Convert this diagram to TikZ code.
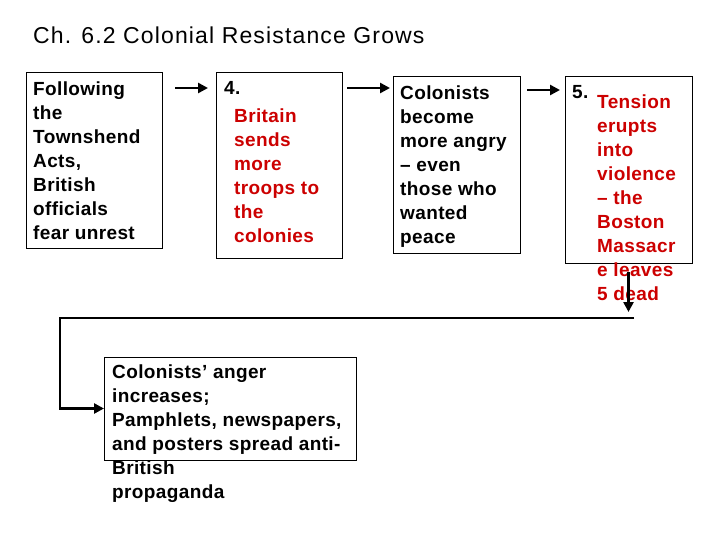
\documentclass[tikz,border=0pt]{standalone}
\usepackage{fontspec}
\setmainfont{Liberation Sans}
\newfontfamily\bodyfont[LetterSpace=2]{Liberation Sans}
\newfontfamily\titlefont[LetterSpace=5]{Liberation Sans}
\usetikzlibrary{arrows.meta,calc}
\definecolor{txtred}{RGB}{204,0,0}
\newcommand{\fl}{\rule{0pt}{15pt}}
\begin{document}
\begin{tikzpicture}[x=1pt,y=-1pt,
  box/.style={draw=black,line width=0.9pt,inner sep=0pt,outer sep=0pt},
  txt/.style={anchor=north west,inner sep=0pt,align=left,
    font=\bodyfont\bfseries\fontsize{19}{24}\selectfont},
  redtxt/.style={txt,text=txtred},
  conn/.style={line width=2.8pt,-{Triangle[length=10pt,width=10pt]}}]
\useasboundingbox (0,0) rectangle (720,540);
\node[anchor=base west,inner sep=0pt,font=\titlefont\fontsize{23}{27}\selectfont] (title) at (33,44) {Ch. 6.2 Colonial Resistance Grows};
% boxes
\node[box,minimum width=136,minimum height=176] (b1) at (94,160) {};
\node[box,minimum width=126,minimum height=186] (b2) at (279,165) {};
\node[box,minimum width=127,minimum height=177] (b3) at (456.5,164.5) {};
\node[box,minimum width=127,minimum height=187] (b4) at (628.5,169.5) {};
\node[box,minimum width=252,minimum height=103] (b5) at (230,408.5) {};
% texts (position = first baseline minus 15)
\node[txt] (t1) at (33,80) {\fl Following\\the\\Townshend\\Acts,\\British\\officials\\fear unrest};
\node[txt] (n4) at (224,79) {\fl 4.};
\node[redtxt] (t2) at (234,107) {\fl Britain\\sends\\more\\troops to\\the\\colonies};
\node[txt] (t3) at (400,84) {\fl Colonists\\become\\more angry\\– even\\those who\\wanted\\peace};
\node[txt] (n5) at (572,83) {\fl 5.};
\node[redtxt] (t4) at (597,93) {\fl Tension\\erupts\\into\\violence\\– the\\Boston\\Massacr\\e leaves\\5 dead};
\node[txt] (t5) at (112,363) {\fl Colonists’ anger\\increases;\\Pamphlets, newspapers,\\and posters spread anti-\\British\\propaganda};
% connectors
\draw[conn] ($(b1.north east)+(13,16)$) -- ($(b2.north west)+(-8,16)$);
\draw[conn] ($(b2.north east)+(5,16)$) -- ($(b3.north west)+(-3,12)$);
\draw[conn] ($(b3.north east)+(7,14)$) -- ($(b4.north west)+(-5,14)$);
\draw[conn] ($(b4.south)+(0,9)$) -- ($(b4.south)+(0,49)$);
\coordinate (c1) at ($(b4.south)+(5.5,55)$);
\coordinate (c2) at ($(b5.west)+(-44,-90.5)$);
\draw[conn] (c1) -- (c2) |- (b5.west);
\end{tikzpicture}
\end{document}
